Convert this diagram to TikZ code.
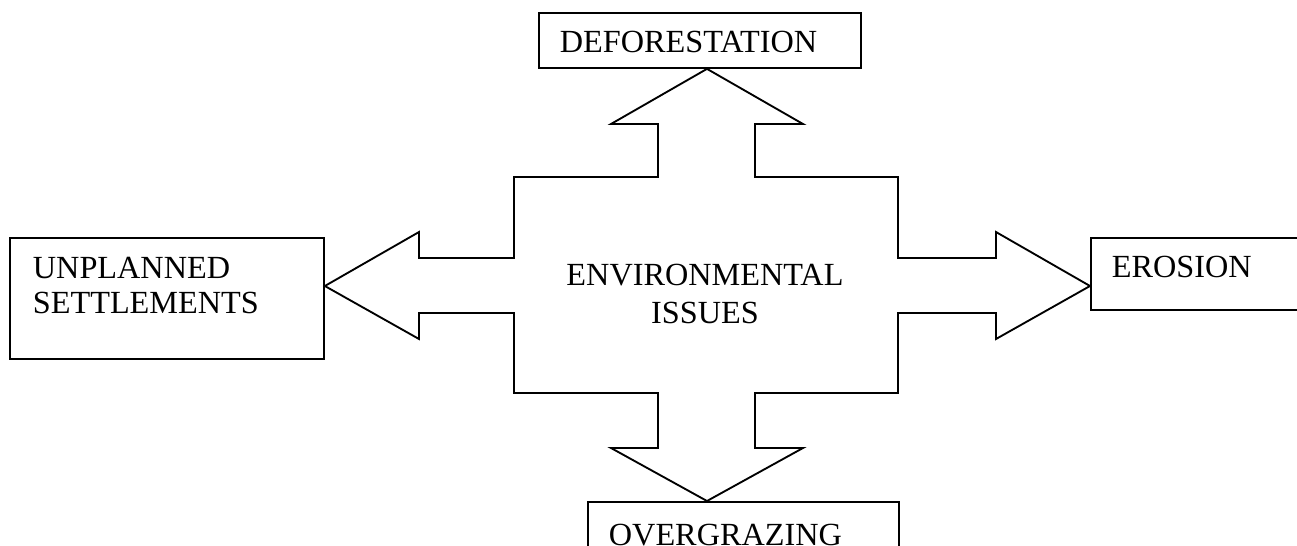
\documentclass[tikz,border=0pt]{standalone}
\usepackage{fontspec}
\setmainfont{Liberation Serif}
\usetikzlibrary{positioning}

\begin{document}
\begin{tikzpicture}[x=0.75pt, y=-0.75pt,
  font=\fontsize{24.2pt}{26.25pt}\selectfont,
  issue/.style={draw, line width=1.4pt, anchor=north west, align=left, inner ysep=0pt, inner xsep=15.75pt},
  bigarrow/.style={line width=1.4pt, line join=miter}
]
\useasboundingbox (0,0) rectangle (1297,546);
\clip (0,0) rectangle (1297,546);
\node[issue, text width=210pt, text height=30pt, text depth=11.25pt] (deforest) at (538,12) {DEFORESTATION};
\node[issue, inner xsep=17.25pt, text width=201pt, text height=30.75pt, text depth=60pt] (unplanned) at (9,237) {UNPLANNED\\SETTLEMENTS};
\node[issue, text width=133.5pt, text height=30pt, text depth=24pt] (erosion) at (1090,237) {EROSION};
\node[issue, text width=201.75pt, text height=32.5pt, text depth=45pt] (overgrazing) at (587,501) {OVERGRAZING};
\node[font=\fontsize{24.2pt}{28.5pt}\selectfont, align=center, text width=300pt, anchor=base] (hub) at (705,285) {ENVIRONMENTAL\\ISSUES};
\coordinate (c) at (707,286);
% four-way arrow
\draw[bigarrow] (c |- deforest.south) -- (803,124) -- (755,124) -- (755,177) -- (898,177) -- (898,258)
  -- (996,258) -- (996,232) -- (erosion.west |- c) -- (996,339) -- (996,313) -- (898,313) -- (898,393)
  -- (755,393) -- (755,448) -- (803,448) -- (c |- overgrazing.north) -- (611,448) -- (658,448) -- (658,393)
  -- (514,393) -- (514,313) -- (419,313) -- (419,339) -- (unplanned.east |- c) -- (419,232) -- (419,258)
  -- (514,258) -- (514,177) -- (658,177) -- (658,124) -- (611,124) -- cycle;
\end{tikzpicture}
\end{document}
